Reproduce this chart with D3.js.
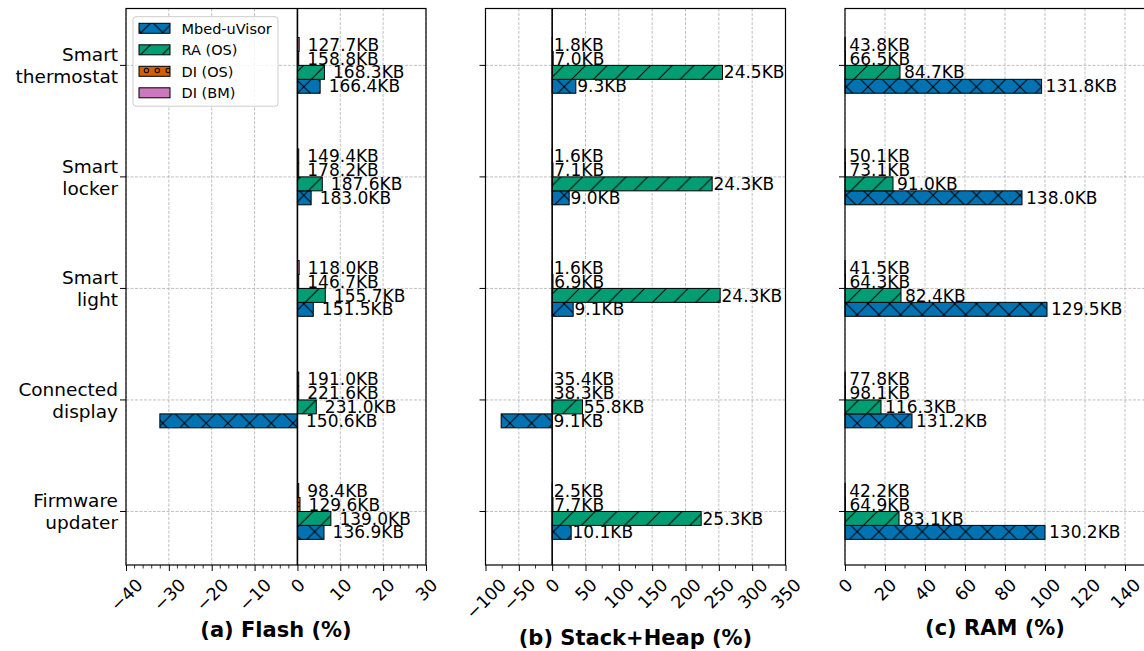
<!DOCTYPE html>
<html>
<head>
<meta charset="utf-8">
<script src="https://cdn.jsdelivr.net/npm/d3@7"></script>
<style>
  body { margin: 0; background: #fff; }
  text { font-family: "DejaVu Sans", sans-serif; fill: #000; }
</style>
</head>
<body>
<svg id="chart" width="1144" height="651"></svg>
<script>
// categories, top to bottom
const categories = ["Smart\nthermostat", "Smart\nlocker", "Smart\nlight", "Connected\ndisplay", "Firmware\nupdater"];
const seriesNames = ["Mbed-uVisor", "RA (OS)", "DI (OS)", "DI (BM)"];
const seriesColors = ["#0173b2", "#029e73", "#d55e00", "#cc78bc"];
const seriesHatch = ["cross", "slash", "circles", "none"];

// (a) Flash overhead, %
const flashMbed = [5.3, 3.2, 3.7, -32.1, 6.2];
const flashRA = [6.3, 5.8, 6.5, 4.4, 7.8];
const flashDIOS = [0.3, 0.3, 0.3, 0.3, 0.6];
const flashDIBM = [0.4, 0.3, 0.4, 0.3, 0.3];
const flashMbedKB = ["166.4", "183.0", "151.5", "150.6", "136.9"];
const flashRAKB = ["168.3", "187.6", "155.7", "231.0", "139.0"];
const flashDIOSKB = ["158.8", "178.2", "146.7", "221.6", "129.6"];
const flashDIBMKB = ["127.7", "149.4", "118.0", "191.0", "98.4"];

// (b) Stack+Heap overhead, %
const stackMbed = [35.5, 25.5, 31.5, -76.5, 28.5];
const stackRA = [255.5, 240, 252, 45.5, 223.5];
const stackDIOS = [1.5, 1.2, 1.2, 0.3, 1.2];
const stackDIBM = [0.5, 0.4, 0.4, 0.2, 0.5];
const stackMbedKB = ["9.3", "9.0", "9.1", "9.1", "10.1"];
const stackRAKB = ["24.5", "24.3", "24.3", "55.8", "25.3"];
const stackDIOSKB = ["7.0", "7.1", "6.9", "38.3", "7.7"];
const stackDIBMKB = ["1.8", "1.6", "1.6", "35.4", "2.5"];

// (c) RAM overhead, %
const ramMbed = [98.3, 88.5, 101, 33.5, 100];
const ramRA = [27.5, 24, 28, 18, 27];
const ramDIOS = [0.2, 0.2, 0.2, 0.2, 0.2];
const ramDIBM = [0.1, 0.1, 0.1, 0.1, 0.1];
const ramMbedKB = ["131.8", "138.0", "129.5", "131.2", "130.2"];
const ramRAKB = ["84.7", "91.0", "82.4", "116.3", "83.1"];
const ramDIOSKB = ["66.5", "73.1", "64.3", "98.1", "64.9"];
const ramDIBMKB = ["43.8", "50.1", "41.5", "77.8", "42.2"];

// axis ticks
const flashTicks = [-40, -30, -20, -10, 0, 10, 20, 30];
const stackTicks = [-100, -50, 0, 50, 100, 150, 200, 250, 300, 350];
const ramTicks = [0, 20, 40, 60, 80, 100, 120, 140];

const panels = [
  { title: "(a) Flash (%)", domain: [-40, 30], ticks: flashTicks, minor: 2, zeroLine: true, yLabels: true,
    values: [flashMbed, flashRA, flashDIOS, flashDIBM], labels: [flashMbedKB, flashRAKB, flashDIOSKB, flashDIBMKB] },
  { title: "(b) Stack+Heap (%)", domain: [-100, 350], ticks: stackTicks, minor: 25, zeroLine: true, yLabels: false,
    values: [stackMbed, stackRA, stackDIOS, stackDIBM], labels: [stackMbedKB, stackRAKB, stackDIOSKB, stackDIBMKB] },
  { title: "(c) RAM (%)", domain: [0, 150], ticks: ramTicks, minor: 10, zeroLine: false, yLabels: false,
    values: [ramMbed, ramRA, ramDIOS, ramDIBM], labels: [ramMbedKB, ramRAKB, ramDIOSKB, ramDIBMKB] }
];

const svg = d3.select("#chart");
const plotTop = 8.5, plotBottom = 565;
const panelW = 300, panelStep = 359.5, firstLeft = 126;
const barH = 0.125;
// bar offset from the category tick, in bar heights (screen order: DI BM on top)
const offsets = [1.5, 0.5, -0.5, -1.5];

// hatch patterns
const defs = svg.append("defs");
const hs = 21.7;
seriesHatch.forEach((h, i) => {
  const p = defs.append("pattern").attr("id", "hatch" + i)
    .attr("patternUnits", "userSpaceOnUse").attr("width", hs).attr("height", hs);
  p.append("rect").attr("width", hs).attr("height", hs).attr("fill", seriesColors[i]);
  if (h === "slash" || h === "cross") {
    p.append("path").attr("d", `M0,${hs}L${hs},0M${-hs/2},${hs/2}L${hs/2},${-hs/2}M${hs/2},${hs*1.5}L${hs*1.5},${hs/2}`)
      .attr("stroke", "#000").attr("stroke-width", 1).attr("fill", "none");
  }
  if (h === "cross") {
    p.append("path").attr("d", `M0,0L${hs},${hs}M${-hs/2},${hs/2}L${hs/2},${hs*1.5}M${hs/2},${-hs/2}L${hs*1.5},${hs/2}`)
      .attr("stroke", "#000").attr("stroke-width", 1).attr("fill", "none");
  }
  if (h === "circles") {
    [[hs/4, hs/4], [hs*3/4, hs/4], [0, hs*3/4], [hs/2, hs*3/4], [hs, hs*3/4]].forEach(c => {
      p.append("circle").attr("cx", c[0]).attr("cy", c[1]).attr("r", 2.2)
        .attr("fill", "none").attr("stroke", "#000").attr("stroke-width", 1);
    });
  }
});

const y = d3.scaleLinear().domain([-0.51, 4.48]).range([plotTop, plotBottom]);

panels.forEach((pn, pi) => {
  const left = firstLeft + pi * panelStep;
  const x = d3.scaleLinear().domain(pn.domain).range([left, left + panelW]);
  const g = svg.append("g");

  // grid
  g.append("g").selectAll("line").data(pn.ticks).join("line")
    .attr("x1", d => x(d)).attr("x2", d => x(d)).attr("y1", plotTop).attr("y2", plotBottom)
    .attr("stroke", "#b0b0b0").attr("stroke-width", 0.8).attr("stroke-dasharray", "3,1.5");
  g.append("g").selectAll("line").data(categories).join("line")
    .attr("x1", left).attr("x2", left + panelW).attr("y1", (d, i) => y(i)).attr("y2", (d, i) => y(i))
    .attr("stroke", "#b0b0b0").attr("stroke-width", 0.8).attr("stroke-dasharray", "3,1.5");

  // bars
  const bh = y(barH) - y(0);
  pn.values.forEach((vals, si) => {
    g.append("g").selectAll("rect").data(vals).join("rect")
      .attr("x", d => x(Math.min(0, d)))
      .attr("width", d => Math.abs(x(d) - x(0)))
      .attr("y", (d, i) => y(i + offsets[si] * barH) - bh / 2)
      .attr("height", bh)
      .attr("fill", `url(#hatch${si})`)
      .attr("stroke", "#000").attr("stroke-width", 1);
  });

  if (pn.zeroLine) {
    g.append("line").attr("x1", x(0)).attr("x2", x(0)).attr("y1", plotTop).attr("y2", plotBottom)
      .attr("stroke", "#000").attr("stroke-width", 1.6);
  }

  // value labels, 2 units right of the bar end (or of zero for negative bars)
  pn.values.forEach((vals, si) => {
    g.append("g").selectAll("text").data(vals).join("text")
      .attr("x", d => x(Math.max(0, d) + 2))
      .attr("y", (d, i) => y(i + offsets[si] * barH))
      .attr("dy", "0.36em")
      .attr("font-size", 17)
      .text((d, i) => pn.labels[si][i] + "KB");
  });

  // frame
  g.append("rect").attr("x", left).attr("y", plotTop).attr("width", panelW).attr("height", plotBottom - plotTop)
    .attr("fill", "none").attr("stroke", "#000").attr("stroke-width", 1.2);

  // x axis
  const minors = d3.range(pn.domain[0], pn.domain[1] + 0.001, pn.minor).filter(v => !pn.ticks.includes(v));
  g.append("g").selectAll("line").data(minors).join("line")
    .attr("x1", d => x(d)).attr("x2", d => x(d)).attr("y1", plotBottom).attr("y2", plotBottom + 3.5)
    .attr("stroke", "#000").attr("stroke-width", 0.8);
  const ax = g.append("g").attr("transform", `translate(0,${plotBottom})`)
    .call(d3.axisBottom(x).tickValues(pn.ticks).tickFormat(d3.format("d")).tickSize(6).tickSizeOuter(0));
  ax.select(".domain").remove();
  ax.selectAll(".tick line").attr("stroke-width", 1);
  ax.selectAll(".tick text")
    .attr("font-family", "DejaVu Sans").attr("font-size", 17.5).attr("fill", "#000")
    .attr("y", 0).attr("dy", "0.35em").attr("text-anchor", "middle")
    .attr("transform", function () {
      const w = this.getComputedTextLength();
      const h = 17.5 * 0.95;
      return `translate(0,${11 + (w + h) / (2 * Math.SQRT2)}) rotate(-45)`;
    });
  const bb = ax.node().getBBox();
  svg.append("text").attr("x", left + panelW / 2).attr("y", plotBottom + bb.height + 22)
    .attr("text-anchor", "middle").attr("font-size", 21).attr("font-weight", "bold")
    .text(pn.title);

  // y ticks
  g.append("g").selectAll("line").data(categories).join("line")
    .attr("x1", left - 6).attr("x2", left).attr("y1", (d, i) => y(i)).attr("y2", (d, i) => y(i))
    .attr("stroke", "#000").attr("stroke-width", 1);
  if (pn.yLabels) {
    const yl = g.append("g").selectAll("text").data(categories).join("text")
      .attr("text-anchor", "end").attr("font-size", 18.5);
    yl.each(function (d, i) {
      const lines = d.split("\n");
      d3.select(this).selectAll("tspan").data(lines).join("tspan")
        .attr("x", left - 8)
        .attr("y", (l, k) => y(i) + (k - (lines.length - 1) / 2) * 22)
        .attr("dy", "0.36em")
        .text(l => l);
    });
  }
});

// legend
const lg = svg.append("g");
lg.append("rect").attr("x", 133).attr("y", 16.7).attr("width", 145).attr("height", 89.5).attr("rx", 3)
  .attr("fill", "#fff").attr("fill-opacity", 0.85).attr("stroke", "#ccc").attr("stroke-width", 1);
seriesNames.forEach((s, i) => {
  const cy = 28.3 + i * 21.5;
  lg.append("rect").attr("x", 139).attr("y", cy - 5).attr("width", 31).attr("height", 10)
    .attr("fill", `url(#hatch${i})`).attr("stroke", "#000").attr("stroke-width", 1);
  lg.append("text").attr("x", 181.5).attr("y", cy).attr("dy", "0.36em").attr("font-size", 14.5).text(s);
});
</script>
</body>
</html>
